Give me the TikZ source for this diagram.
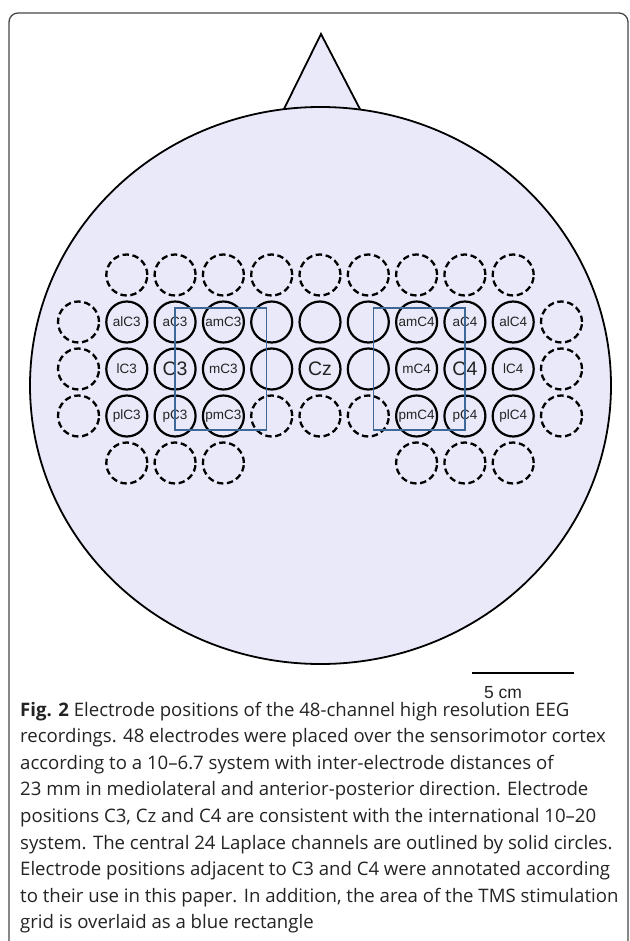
\documentclass[tikz,border=0pt]{standalone}
\usepackage{fontspec}
\setmainfont{Liberation Sans}
\newfontfamily\capfont[Ligatures=TeX]{Open Sans}
\definecolor{headfill}{RGB}{233,233,250}
\definecolor{tmsblue}{RGB}{62,104,152}
\definecolor{txtgray}{RGB}{35,35,35}
\definecolor{framegray}{RGB}{70,70,70}
\newcommand\elecnode[5]{\node[#4] (#1) at ({320+48.3*(#2)}, {275+47*(#3)}) {#5};}
\begin{document}
\begin{tikzpicture}[x=1pt,y=-1pt,
  headline/.style={draw=black, line width=1.8pt, fill=headfill},
  elec/.style={circle, minimum size=41pt, inner sep=0pt, line width=2.2pt, draw=black,
    text=txtgray, font=\fontsize{13.5}{14}\selectfont},
  sol/.style={elec},
  dsh/.style={elec, line width=2.3pt, dash pattern=on 6.4pt off 3.6pt},
  big/.style={font=\fontsize{19.5}{20}\selectfont},
  tms/.style={draw=tmsblue, line width=1.6pt},
  capline/.style={anchor=base west, inner sep=0pt, text=txtgray,
    font=\capfont\fontsize{18.6}{22}\selectfont}]
\useasboundingbox (0,0) rectangle (629,941);
% frame
\draw[framegray, line width=1.3pt, rounded corners=9pt] (9,13) rectangle (628,990);
% head
\draw[headline] (282,113) -- (321,34) -- (362,113) -- cycle;
\draw[headline] (320.5,385.5) ellipse [x radius=290.5pt, y radius=278.5pt];
% row 0
\elecnode{r0a}{-4}{0}{dsh}{}
\elecnode{r0b}{-3}{0}{dsh}{}
\elecnode{r0c}{-2}{0}{dsh}{}
\elecnode{r0d}{-1}{0}{dsh}{}
\elecnode{r0e}{0}{0}{dsh}{}
\elecnode{r0f}{1}{0}{dsh}{}
\elecnode{r0g}{2}{0}{dsh}{}
\elecnode{r0h}{3}{0}{dsh}{}
\elecnode{r0i}{4}{0}{dsh}{}
% row 1
\elecnode{r1a}{-5}{1}{dsh}{}
\elecnode{alC3}{-4}{1}{sol}{alC3}
\elecnode{aC3}{-3}{1}{sol}{aC3}
\elecnode{amC3}{-2}{1}{sol}{amC3}
\elecnode{r1e}{-1}{1}{sol}{}
\elecnode{r1f}{0}{1}{sol}{}
\elecnode{r1g}{1}{1}{sol}{}
\elecnode{amC4}{2}{1}{sol}{amC4}
\elecnode{aC4}{3}{1}{sol}{aC4}
\elecnode{alC4}{4}{1}{sol}{alC4}
\elecnode{r1k}{5}{1}{dsh}{}
% row 2
\elecnode{r2a}{-5}{2}{dsh}{}
\elecnode{lC3}{-4}{2}{sol}{lC3}
\elecnode{C3}{-3}{2}{sol,big}{C3}
\elecnode{mC3}{-2}{2}{sol}{mC3}
\elecnode{r2e}{-1}{2}{sol}{}
\elecnode{Cz}{0}{2}{sol,big}{Cz}
\elecnode{r2g}{1}{2}{sol}{}
\elecnode{mC4}{2}{2}{sol}{mC4}
\elecnode{C4}{3}{2}{sol,big}{C4}
\elecnode{lC4}{4}{2}{sol}{lC4}
\elecnode{r2k}{5}{2}{dsh}{}
% row 3
\elecnode{r3a}{-5}{3}{dsh}{}
\elecnode{plC3}{-4}{3}{sol}{plC3}
\elecnode{pC3}{-3}{3}{sol}{pC3}
\elecnode{pmC3}{-2}{3}{sol}{pmC3}
\elecnode{r3e}{-1}{3}{dsh}{}
\elecnode{r3f}{0}{3}{dsh}{}
\elecnode{r3g}{1}{3}{dsh}{}
\elecnode{pmC4}{2}{3}{sol}{pmC4}
\elecnode{pC4}{3}{3}{sol}{pC4}
\elecnode{plC4}{4}{3}{sol}{plC4}
\elecnode{r3k}{5}{3}{dsh}{}
% row 4
\elecnode{r4a}{-4}{4}{dsh}{}
\elecnode{r4b}{-3}{4}{dsh}{}
\elecnode{r4c}{-2}{4}{dsh}{}
\elecnode{r4d}{2}{4}{dsh}{}
\elecnode{r4e}{3}{4}{dsh}{}
\elecnode{r4f}{4}{4}{dsh}{}
% TMS rectangles
\draw[tms] (175,308) rectangle (266.5,430);
\draw[tms] (373.5,308) rectangle (465,430);
% scale bar
\coordinate (sbL) at (472,673);
\coordinate (sbR) at (574,673);
\draw[black, line width=2.2pt] (sbL) -- (sbR);
\node[text=txtgray, font=\fontsize{17.5}{18}\selectfont] (sbtext) at (503,693) {5 cm};
% caption
\node[capline] (cap1) at (20,716) {\textbf{Fig. 2} Electrode positions of the 48-channel high resolution EEG};
\node[capline] (cap2) at (20,742.6) {recordings. 48 electrodes were placed over the sensorimotor cortex};
\node[capline] (cap3) at (20,769.2) {according to a 10--6.7 system with inter-electrode distances of};
\node[capline] (cap4) at (20,795.8) {23 mm in mediolateral and anterior-posterior direction. Electrode};
\node[capline] (cap5) at (20,822.4) {positions C3, Cz and C4 are consistent with the international 10--20};
\node[capline] (cap6) at (20,849) {system. The central 24 Laplace channels are outlined by solid circles.};
\node[capline] (cap7) at (20,875.6) {Electrode positions adjacent to C3 and C4 were annotated according};
\node[capline] (cap8) at (20,902.2) {to their use in this paper. In addition, the area of the TMS stimulation};
\node[capline] (cap9) at (20,928.8) {grid is overlaid as a blue rectangle};
\end{tikzpicture}
\end{document}
